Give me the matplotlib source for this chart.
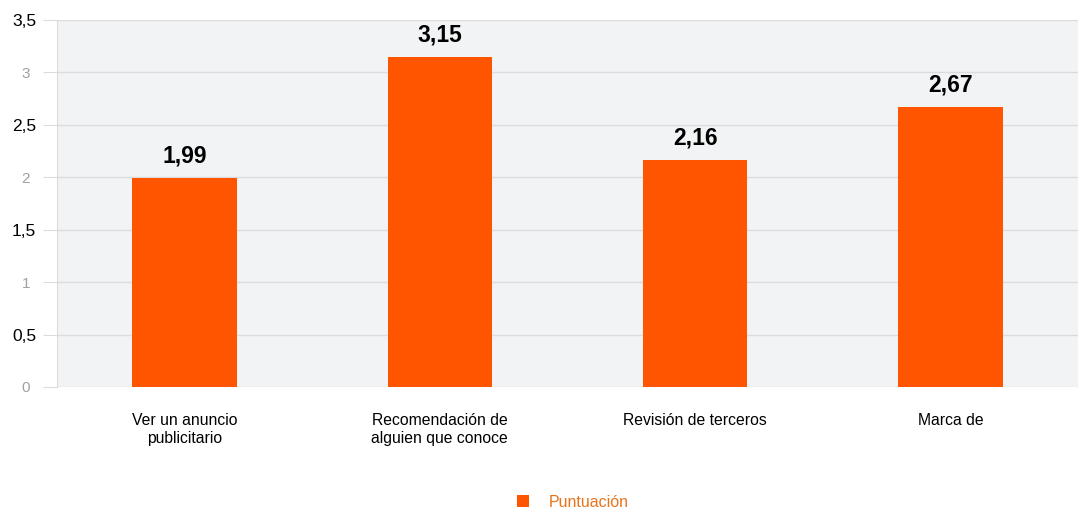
import matplotlib.pyplot as plt
import matplotlib.transforms as mtransforms
import numpy as np

categorias = ['Ver un anuncio\npublicitario', 'Recomendación de\nalguien que conoce',
              'Revisión de terceros', 'Marca de']
puntuacion = [1.99, 3.15, 2.16, 2.67]
etiquetas = ['1,99', '3,15', '2,16', '2,67']
yticks = [0, 0.5, 1, 1.5, 2, 2.5, 3, 3.5]
ytick_labels = ['0', '0,5', '1', '1,5', '2', '2,5', '3', '3,5']

naranja = '#ff5500'

fig = plt.figure(figsize=(10.83, 5.11), dpi=100)
ax = fig.add_axes([0.0526, 0.2427, 0.9428, 0.7183])
ax.set_facecolor('#f1f3f4')

x = np.arange(len(categorias))
ax.bar(x, puntuacion, width=0.41, color=naranja, zorder=3, label='Puntuación')

for xi, v, t in zip(x, puntuacion, etiquetas):
    ax.text(xi, v + 0.1, t, ha='center', va='bottom', fontsize=16.5,
            fontweight='bold', color='black', family='Liberation Sans')

ax.set_xlim(-0.5, len(categorias) - 0.5)
ax.set_ylim(0, 3.5)
ax.set_yticks(yticks)
ax.set_yticklabels(ytick_labels, family='Liberation Sans')
ax.tick_params(axis='y', length=10, color='#dcdcdc', pad=5)
ax.grid(axis='y', color='#dcdcdc', linewidth=1, zorder=0)

ax.set_xticks(x)
ax.set_xticklabels(categorias, fontsize=11.3, family='Liberation Sans', linespacing=1.2)
ax.tick_params(axis='x', length=0, pad=19)

for s in ['top', 'right', 'bottom']:
    ax.spines[s].set_visible(False)
ax.spines['left'].set_color('#dcdcdc')

desplazar = mtransforms.ScaledTranslation(-6 / 100, 0, fig.dpi_scale_trans)
for lbl, v in zip(ax.get_yticklabels(), yticks):
    if v == int(v):
        lbl.set_color('#a0a0a0')
        lbl.set_fontsize(11)
        lbl.set_transform(lbl.get_transform() + desplazar)
    else:
        lbl.set_color('black')
        lbl.set_fontsize(12.5)

leg = fig.legend(loc='lower center', bbox_to_anchor=(0.529, -0.026), frameon=False,
                 handlelength=0.75, handleheight=0.75, handletextpad=1.2,
                 prop={'family': 'Liberation Sans', 'size': 11.5})
for t in leg.get_texts():
    t.set_color('#e8741c')

fig.savefig('out.png', dpi=100)
